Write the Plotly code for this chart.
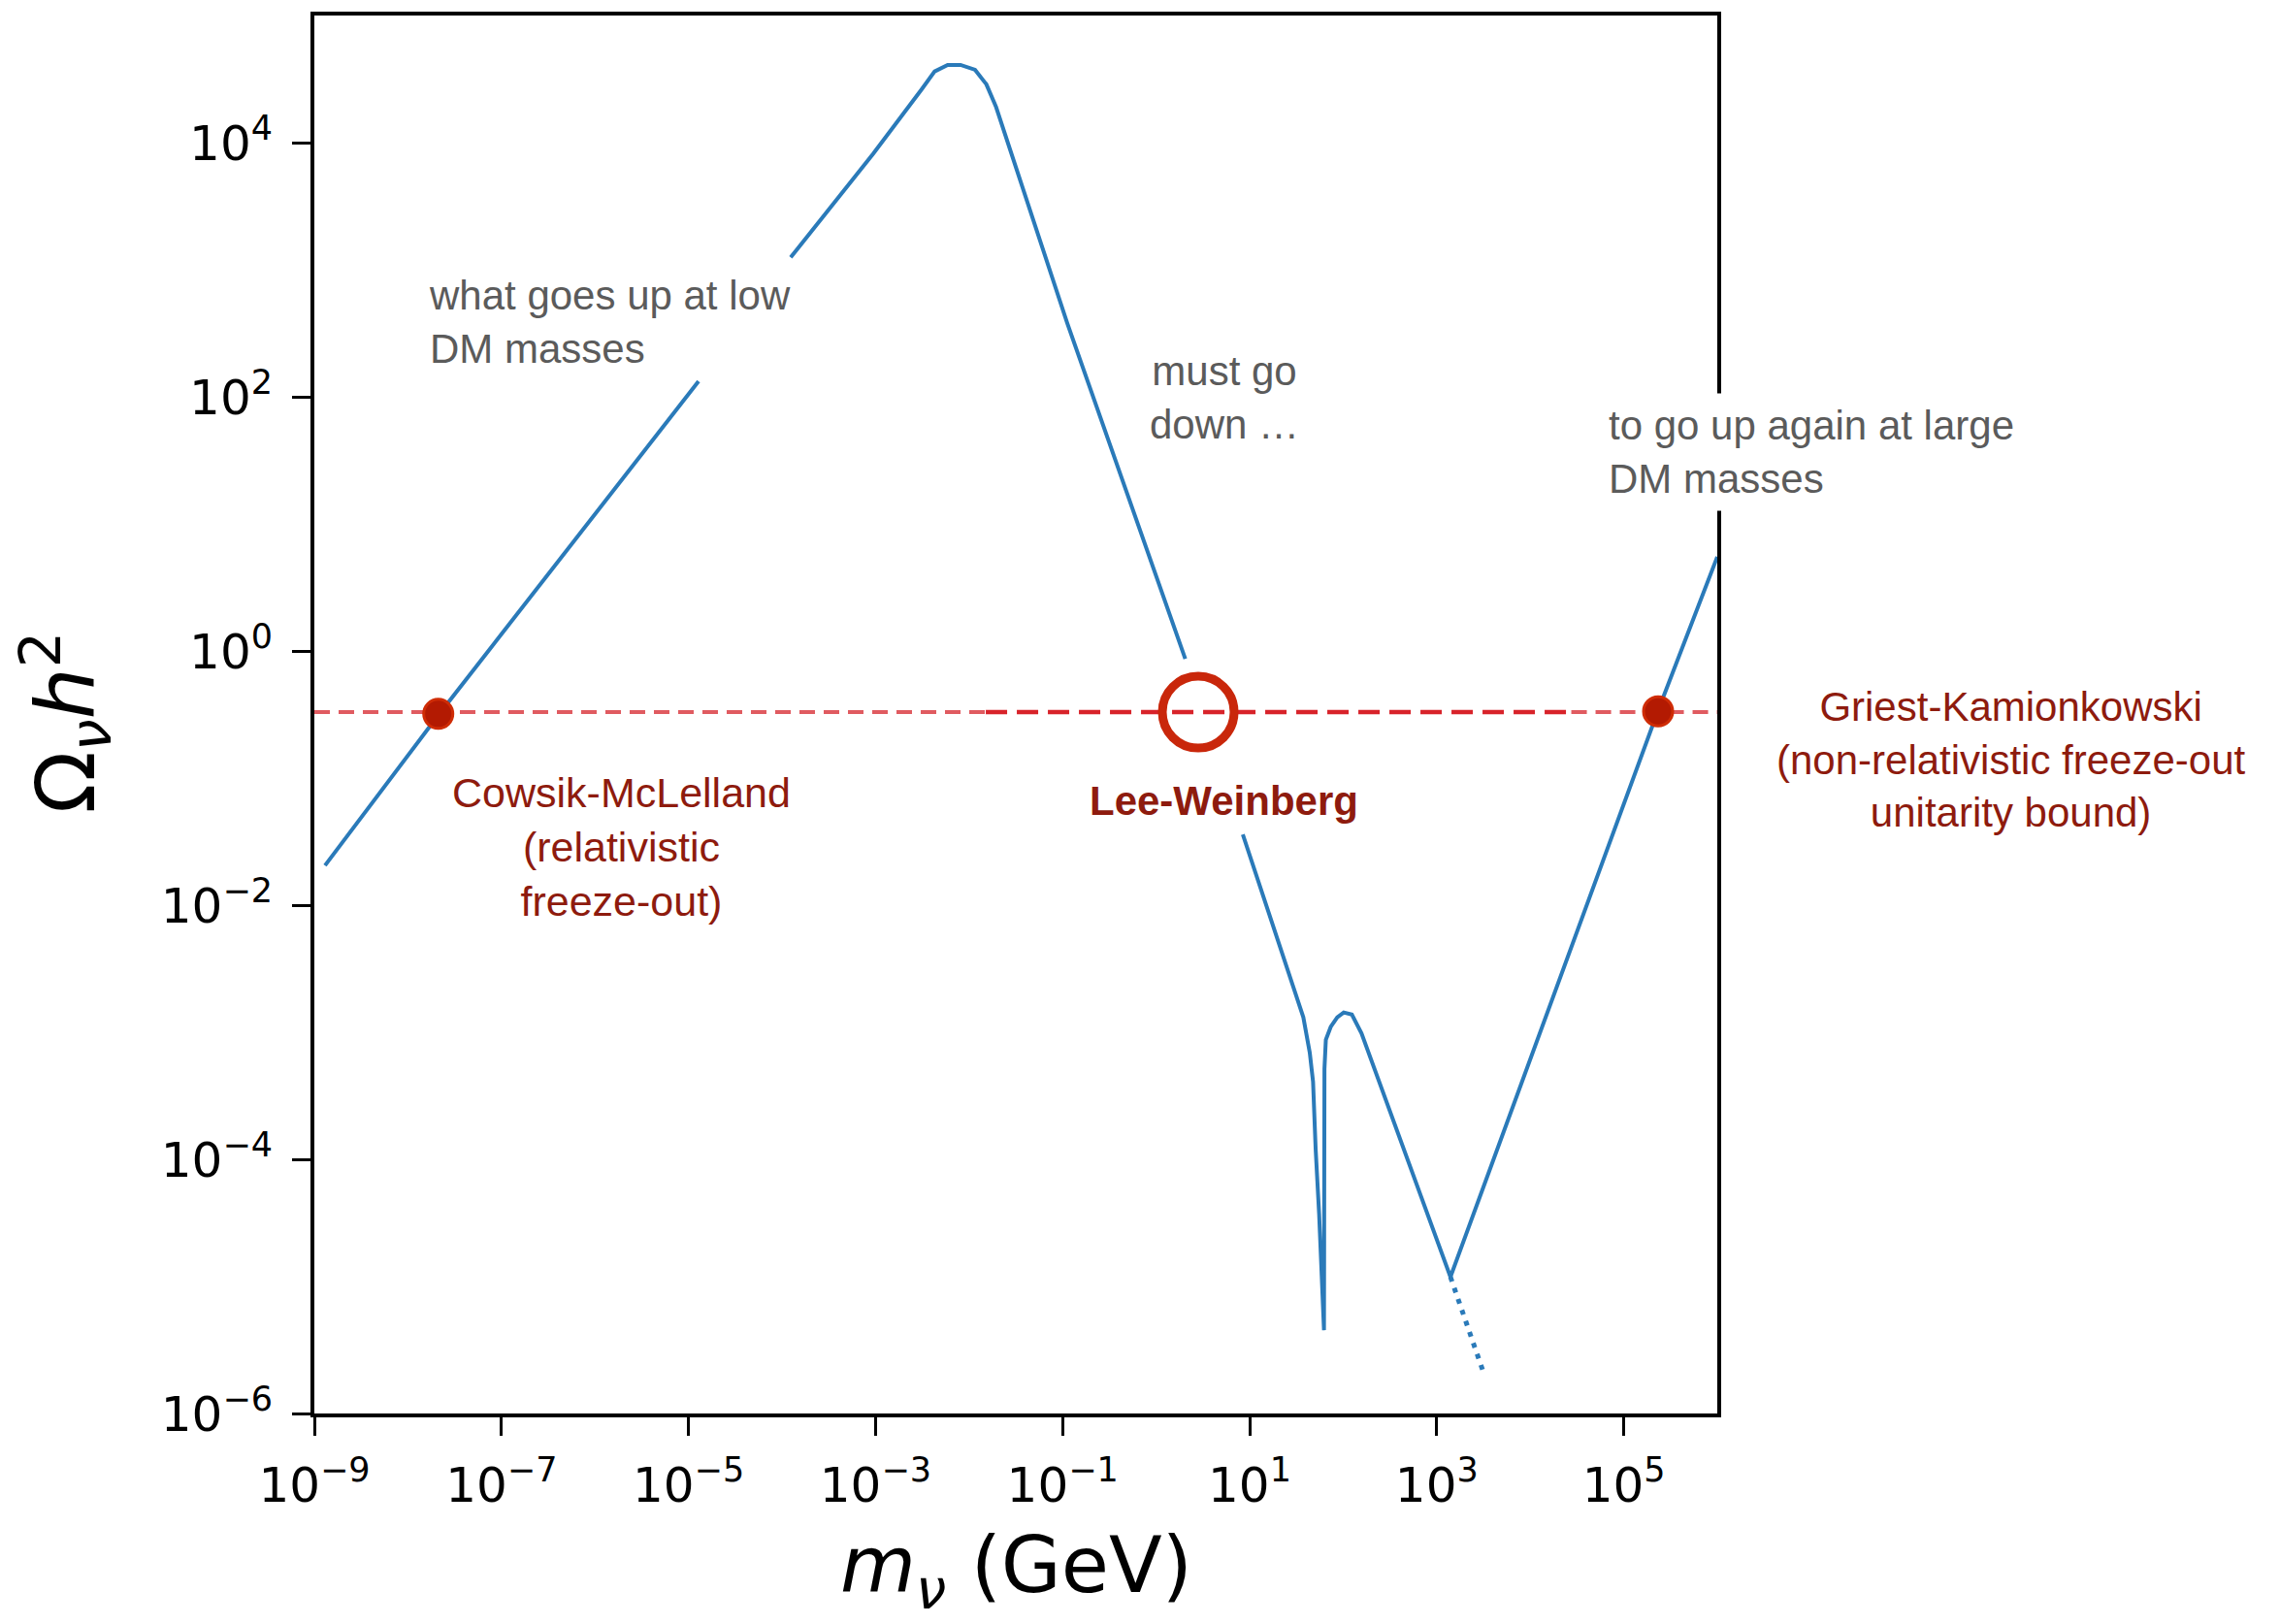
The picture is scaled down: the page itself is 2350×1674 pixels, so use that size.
import plotly.graph_objects as go

# ---------------- data ----------------
# relic abundance curve: m (GeV) vs Omega h^2 ; None = gap where the picture hides the line
curve_mass = [1.300e-9, 2.113e-8, 1.282e-5, None,
              1.239e-4, 9.44e-4, 3.119e-3, 4.285e-3, 5.90e-3, 8.11e-3, 1.159e-2,
              1.531e-2, 1.945e-2, 2.891e-2, 5.035e-2, 0.1122, 2.051, None,
              8.453, 17.58, 37.50, 43.95, 47.64, 50.82, 55.34, 62.37, 62.66, 62.81,
              63.10, 65.31, 73.62, 86.50, 101.4, 123.9, 157.0, 1403.0, 2.328e5, 1.0e6]
curve_omega = [0.0205, 0.312, 132.4, None,
               1250.0, 8166.0, 26300.0, 36300.0, 40830.0, 40830.0, 37410.0,
               28770.0, 19050.0, 7925.0, 2323.0, 379.3, 0.867, None,
               0.0360, 7.16e-3, 1.312e-3, 6.90e-4, 4.083e-4, 1.197e-4, 3.715e-5, 4.519e-6,
               2.070e-5, 1.197e-4, 5.152e-4, 8.730e-4, 1.102e-3, 1.312e-3, 1.432e-3,
               1.377e-3, 9.817e-4, 1.186e-5, 0.3396, 5.495]

# dotted continuation below the second minimum
dotted_mass = [1403.0, 3243.0]
dotted_omega = [1.186e-5, 1.995e-6]

# observed relic density level (dashed line): light outer parts, darker middle part
relic_level = 0.33
relic_outer_mass = [1e-9, 0.0151, None, 2.75e4, 1e6]
relic_mid_mass = [0.0151, 2.75e4]

# highlighted crossing points
dot_mass = [2.113e-8, 2.33e5]
dot_omega = [0.32, 0.335]
lw_mass = [2.82]
lw_omega = [0.33]

# ticks
x_tickvals = [1e-9, 1e-7, 1e-5, 1e-3, 1e-1, 1e1, 1e3, 1e5]
x_ticktext = ["10<sup>−9</sup>", "10<sup>−7</sup>", "10<sup>−5</sup>", "10<sup>−3</sup>",
              "10<sup>−1</sup>", "10<sup>1</sup>", "10<sup>3</sup>", "10<sup>5</sup>"]
y_tickvals = [1e-6, 1e-4, 1e-2, 1e0, 1e2, 1e4]
y_ticktext = ["10<sup>−6</sup>", "10<sup>−4</sup>", "10<sup>−2</sup>", "10<sup>0</sup>",
              "10<sup>2</sup>", "10<sup>4</sup>"]

# ---------------- figure ----------------
BLUE = "#2a7ab9"
DARKRED = "#8e1b0e"
GRAY = "#5b5b5b"
TXT_FONT = "Liberation Sans, Arial, sans-serif"

fig = go.Figure()

fig.add_trace(go.Scatter(x=relic_outer_mass,
                         y=[relic_level if m is not None else None for m in relic_outer_mass],
                         mode="lines", connectgaps=False,
                         line=dict(color="rgba(218,62,68,0.85)", width=4, dash="16px,9px"),
                         hoverinfo="skip"))
fig.add_trace(go.Scatter(x=relic_mid_mass, y=[relic_level] * len(relic_mid_mass), mode="lines",
                         line=dict(color="#d8232a", width=4.5, dash="22px,10px"),
                         hoverinfo="skip"))

fig.add_trace(go.Scatter(x=curve_mass, y=curve_omega, mode="lines",
                         line=dict(color=BLUE, width=4), connectgaps=False,
                         hoverinfo="skip"))
fig.add_trace(go.Scatter(x=dotted_mass, y=dotted_omega, mode="lines",
                         line=dict(color=BLUE, width=5, dash="5px,7px"),
                         hoverinfo="skip"))

fig.add_trace(go.Scatter(x=dot_mass, y=dot_omega, mode="markers",
                         marker=dict(size=30, color="#b31a02",
                                     line=dict(color="#cf2c06", width=3)),
                         hoverinfo="skip"))
fig.add_trace(go.Scatter(x=lw_mass, y=lw_omega, mode="markers",
                         marker=dict(symbol="circle-open", size=74, color="#c9270b",
                                     line=dict(color="#c9270b", width=9)),
                         hoverinfo="skip"))

ann = []
ann.append(dict(x=-7.797, y=2.59, xref="x", yref="y", xanchor="left", yanchor="middle",
                align="left", showarrow=False,
                text="what goes up at low<br>DM masses",
                font=dict(family=TXT_FONT, size=42, color=GRAY)))
ann.append(dict(x=0.73, y=1.99, xref="x", yref="y", xanchor="center", yanchor="middle",
                align="center", showarrow=False,
                text="must go<br>down …",
                font=dict(family=TXT_FONT, size=42, color=GRAY)))
ann.append(dict(x=4.838, y=1.566, xref="x", yref="y", xanchor="left", yanchor="middle",
                align="left", showarrow=False, xshift=-10, bgcolor="white", borderpad=9,
                text="to go up again at large<br>DM masses",
                font=dict(family=TXT_FONT, size=42, color=GRAY)))
ann.append(dict(x=-5.722, y=-1.543, xref="x", yref="y", xanchor="center", yanchor="middle",
                align="center", showarrow=False,
                text="Cowsik-McLelland<br>(relativistic<br>freeze-out)",
                font=dict(family=TXT_FONT, size=43, color=DARKRED)))
ann.append(dict(x=0.73, y=-1.177, xref="x", yref="y", xanchor="center", yanchor="middle",
                align="center", showarrow=False,
                text="<b>Lee-Weinberg</b>",
                font=dict(family=TXT_FONT, size=42, color=DARKRED)))
ann.append(dict(x=1.2095, y=0.4678, xref="paper", yref="paper", xanchor="center", yanchor="middle",
                align="center", showarrow=False,
                text="Griest-Kamionkowski<br>(non-relativistic freeze-out<br>unitarity bound)",
                font=dict(family=TXT_FONT, size=42, color=DARKRED)))
# axis titles
ann.append(dict(x=0, y=0.5, xref="paper", yref="paper", xanchor="center", yanchor="middle",
                xshift=-257, yshift=-8, textangle=-90, showarrow=False,
                text="Ω<sub><i>ν</i></sub><i>h</i><sup>2</sup>",
                font=dict(family="DejaVu Sans", size=84, color="black")))
ann.append(dict(x=0.5, y=0, xref="paper", yref="paper", xanchor="center", yanchor="middle",
                yshift=-162, showarrow=False,
                text="<i>m</i><sub><i>ν</i></sub> (GeV)",
                font=dict(family="DejaVu Sans", size=80, color="black")))

fig.update_layout(
    width=2350, height=1674,
    margin=dict(l=324, r=580, t=12, b=217),
    paper_bgcolor="white", plot_bgcolor="white",
    showlegend=False,
    annotations=ann,
)
fig.update_xaxes(type="log", range=[-9, 6], tickvals=x_tickvals, ticktext=x_ticktext,
                 ticks="outside", ticklen=19, tickwidth=3, tickcolor="black",
                 showline=True, linecolor="black", linewidth=4, mirror=True,
                 showgrid=False, zeroline=False, ticklabelstandoff=8,
                 tickfont=dict(family="DejaVu Sans", size=50, color="black"))
fig.update_yaxes(type="log", range=[-6, 5], tickvals=y_tickvals, ticktext=y_ticktext,
                 ticks="outside", ticklen=19, tickwidth=3, tickcolor="black",
                 showline=True, linecolor="black", linewidth=4, mirror=True,
                 showgrid=False, zeroline=False, ticklabelstandoff=10,
                 tickfont=dict(family="DejaVu Sans", size=50, color="black"))

fig.write_html("out.html")
